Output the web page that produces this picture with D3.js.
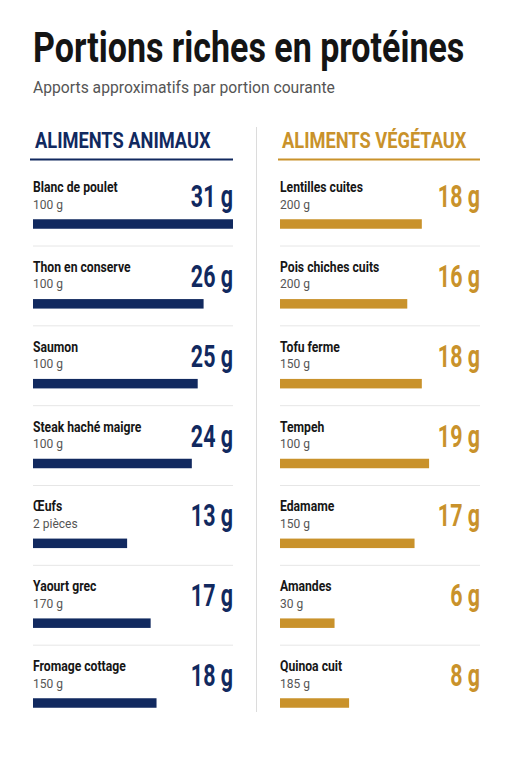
<!DOCTYPE html>
<html>
<head>
<meta charset="utf-8">
<script src="https://cdn.jsdelivr.net/npm/d3@7"></script>
<style>
  html, body { margin: 0; padding: 0; background: #fff; }
  svg { display: block; font-family: Roboto, "Noto Sans", sans-serif; }
</style>
</head>
<body>
<div id="chart"></div>
<script>
// données
var animalNames = ["Blanc de poulet", "Thon en conserve", "Saumon", "Steak haché maigre", "Œufs", "Yaourt grec", "Fromage cottage"];
var animalPortions = ["100 g", "100 g", "100 g", "100 g", "2 pièces", "170 g", "150 g"];
var animalValues = [31, 26, 25, 24, 13, 17, 18];

var plantNames = ["Lentilles cuites", "Pois chiches cuits", "Tofu ferme", "Tempeh", "Edamame", "Amandes", "Quinoa cuit"];
var plantPortions = ["200 g", "200 g", "150 g", "100 g", "150 g", "30 g", "185 g"];
var plantValues = [18, 16, 18, 19, 17, 6, 8];

var width = 511, height = 768;
var navy = "#11295f", gold = "#c9922b";

var svg = d3.select("#chart").append("svg")
    .attr("width", width).attr("height", height);

// texte condensé (mise à l'échelle horizontale)
function condensed(g, x, y, sx, txt) {
    return g.append("text")
        .attr("transform", "translate(" + x + "," + y + ") scale(" + sx + ",1)")
        .text(txt);
}

// titre
condensed(svg, 33, 62, 0.81, "Portions riches en protéines")
    .attr("font-size", 42).attr("font-weight", 700).attr("fill", "#141414");

svg.append("text")
    .attr("x", 33).attr("y", 93)
    .attr("font-size", 15.7).attr("fill", "#555")
    .text("Apports approximatifs par portion courante");

// séparateur vertical
svg.append("line")
    .attr("x1", 256.5).attr("x2", 256.5).attr("y1", 127).attr("y2", 712)
    .attr("stroke", "#dcdcdc").attr("stroke-width", 1);

var rowY = d3.scalePoint().domain(d3.range(7)).range([224, 703]);

var columns = [
    { title: "ALIMENTS ANIMAUX", color: navy, x0: 33, x1: 233, lineX0: 30,
      names: animalNames, portions: animalPortions, values: animalValues,
      scale: d3.scaleLinear().domain([-3, 31]).range([0, 200]) },
    { title: "ALIMENTS VÉGÉTAUX", color: gold, x0: 280, x1: 480, lineX0: 278,
      names: plantNames, portions: plantPortions, values: plantValues,
      scale: d3.scaleLinear().domain([-1.5, 26]).range([0, 200]) }
];

columns.forEach(function(c) {
    var g = svg.append("g");

    condensed(g, c.x0 + 2, 148, 0.83, c.title)
        .attr("font-size", 22).attr("font-weight", 700).attr("fill", c.color);

    g.append("line")
        .attr("x1", c.lineX0).attr("x2", c.x1).attr("y1", 159.5).attr("y2", 159.5)
        .attr("stroke", c.color).attr("stroke-width", 2);

    var rows = g.selectAll(".row")
        .data(d3.range(c.names.length))
        .enter().append("g")
        .attr("class", "row")
        .attr("transform", function(i) { return "translate(0," + rowY(i) + ")"; });

    // séparateurs entre lignes
    rows.filter(function(i) { return i < c.names.length - 1; })
        .append("line")
        .attr("x1", c.x0).attr("x2", c.x1).attr("y1", 22).attr("y2", 22)
        .attr("stroke", "#e6e6e6").attr("stroke-width", 1);

    rows.append("text")
        .attr("transform", "translate(" + c.x0 + ",-32) scale(0.87,1)")
        .attr("font-size", 14).attr("font-weight", 700).attr("fill", "#161616")
        .text(function(i) { return c.names[i]; });

    rows.append("text")
        .attr("x", c.x0).attr("y", -15.5)
        .attr("font-size", 12).attr("fill", "#555")
        .text(function(i) { return c.portions[i]; });

    rows.append("text")
        .attr("transform", "translate(" + c.x1 + ",-17) scale(0.67,1)")
        .attr("text-anchor", "end")
        .attr("font-size", 32).attr("font-weight", 700).attr("fill", c.color)
        .text(function(i) { return c.values[i] + " g"; });

    rows.append("rect")
        .attr("x", c.x0).attr("y", -4.75)
        .attr("width", function(i) { return c.scale(c.values[i]); })
        .attr("height", 9.5)
        .attr("fill", c.color);
});
</script>
</body>
</html>
